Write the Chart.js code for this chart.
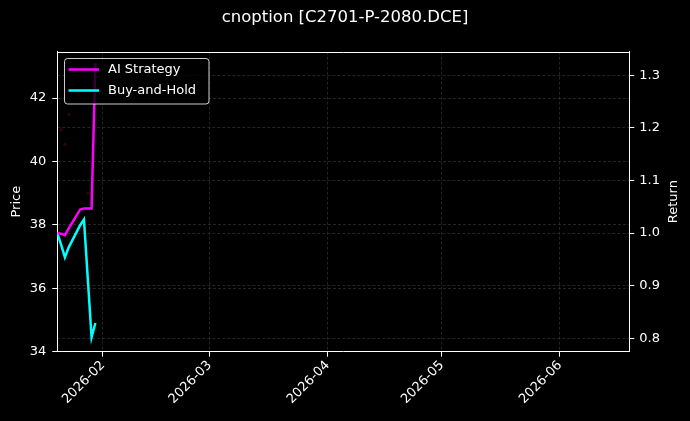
<!DOCTYPE html>
<html><head><meta charset="utf-8">
<script src="https://cdn.jsdelivr.net/npm/chart.js@4.4.1/dist/chart.umd.min.js"></script>
<style>html,body{margin:0;padding:0;background:#000;overflow:hidden;}canvas{display:block;}</style>
</head><body>
<canvas id="c" width="690" height="421" style="width:690px;height:421px"></canvas>
<script>
// ---- data ----
const titleText = 'cnoption [C2701-P-2080.DCE]';
const dates = ['2026-01-20','2026-01-21','2026-01-22','2026-01-23','2026-01-26','2026-01-27','2026-01-28','2026-01-29','2026-01-30'];
const aiStrategy = [1.000, 0.999, 0.996, 1.009, 1.045, 1.047, 1.047, 1.047, 1.323];
const buyAndHold = [1.000, 0.978, 0.954, 0.973, 1.015, 1.026, 0.914, 0.802, 0.829];
const signalDates = ['2026-01-21','2026-01-22','2026-01-23','2026-01-28'];
const signalPrices = [41.0, 40.53, 41.48, 39.0];
const monthTicks = ['2026-02-01','2026-03-01','2026-04-01','2026-05-01','2026-06-01'];
const priceTicks = [34, 36, 38, 40, 42];
const returnTicks = [0.8, 0.9, 1.0, 1.1, 1.2, 1.3];
const xRange = ['2026-01-20T00:00:00Z', '2026-06-19T05:00:00Z'];
const priceRange = [34, 43.46];
const returnRange = [0.7745, 1.345];
const seriesLabels = ['AI Strategy', 'Buy-and-Hold'];
const seriesColors = ['#ff00ff', '#00ffff'];

// ---- helpers ----
const toXY = (ds, vs) => ds.map((d, i) => ({x: Date.parse(d), y: vs[i]}));
const FONT = "'DejaVu Sans', sans-serif";
Chart.defaults.font.family = FONT;
Chart.defaults.color = '#ffffff';

const GRID = {color: '#3c3c3c', lineWidth: 0.6, tickColor: '#ffffff', tickLength: 5, tickWidth: 1};
const BORDER = {display: true, color: '#ffffff', width: 1, dash: [3, 2]};

const framePlugin = {
  id: 'frame',
  afterDraw(chart) {
    const {ctx, chartArea: a} = chart;
    ctx.save();
    ctx.strokeStyle = '#ffffff'; ctx.lineWidth = 1;
    ctx.beginPath(); ctx.moveTo(a.left, Math.round(a.top) + 0.5); ctx.lineTo(a.right, Math.round(a.top) + 0.5); ctx.stroke();
    ctx.fillStyle = '#ffffff';
    ctx.font = '13px ' + FONT;
    ctx.textAlign = 'center'; ctx.textBaseline = 'middle';
    ctx.translate(673.5, (a.top + a.bottom) / 2);
    ctx.rotate(-Math.PI / 2);
    ctx.fillText('Return', 0, 0);
    ctx.restore();
    // legend
    ctx.save();
    const lx = 64.5, ly = 58.5, lw = 144.5, lh = 45.5, r = 3;
    ctx.beginPath();
    ctx.moveTo(lx + r, ly); ctx.lineTo(lx + lw - r, ly); ctx.quadraticCurveTo(lx + lw, ly, lx + lw, ly + r);
    ctx.lineTo(lx + lw, ly + lh - r); ctx.quadraticCurveTo(lx + lw, ly + lh, lx + lw - r, ly + lh);
    ctx.lineTo(lx + r, ly + lh); ctx.quadraticCurveTo(lx, ly + lh, lx, ly + lh - r);
    ctx.lineTo(lx, ly + r); ctx.quadraticCurveTo(lx, ly, lx + r, ly);
    ctx.closePath();
    ctx.fillStyle = 'rgba(0,0,0,0.8)'; ctx.fill();
    ctx.strokeStyle = 'rgba(255,255,255,0.8)'; ctx.lineWidth = 1; ctx.stroke();
    const rows = [69.5, 90.5];
    chart.data.datasets.slice(0, 2).forEach((ds, i) => {
      ctx.strokeStyle = ds.borderColor; ctx.lineWidth = 2.5;
      ctx.beginPath(); ctx.moveTo(68.5, rows[i]); ctx.lineTo(99, rows[i]); ctx.stroke();
      ctx.fillStyle = '#ffffff'; ctx.font = '13px ' + FONT;
      ctx.textAlign = 'left'; ctx.textBaseline = 'middle';
      ctx.fillText(ds.label, 108, rows[i] + 0.5);
    });
    ctx.restore();
  }
};

new Chart(document.getElementById('c'), {
  type: 'line',
  data: {
    datasets: [
      {label: seriesLabels[0], data: toXY(dates, aiStrategy), yAxisID: 'y2', borderColor: seriesColors[0], backgroundColor: seriesColors[0], borderWidth: 2.5, pointRadius: 0, tension: 0},
      {label: seriesLabels[1], data: toXY(dates, buyAndHold), yAxisID: 'y2', borderColor: seriesColors[1], backgroundColor: seriesColors[1], borderWidth: 2.5, pointRadius: 0, tension: 0},
      {label: 'Price', data: toXY(signalDates, signalPrices), yAxisID: 'y', showLine: false, pointRadius: 1.8, borderWidth: 0, pointBackgroundColor: 'rgba(190,20,70,0.22)', backgroundColor: 'rgba(190,20,70,0.22)'}
    ]
  },
  options: {
    responsive: false,
    animation: false,
    devicePixelRatio: 1,
    layout: {padding: {left: 0, right: 0, top: 0, bottom: 0}},
    plugins: {
      legend: {display: false},
      tooltip: {enabled: false},
      title: {display: true, text: titleText, color: '#ffffff', font: {size: 16.5, weight: 'normal', family: FONT}, padding: {top: 7.5, bottom: 24.4}}
    },
    scales: {
      x: {
        type: 'linear', position: 'bottom',
        min: Date.parse(xRange[0]), max: Date.parse(xRange[1]),
        grid: GRID, border: BORDER,
        afterBuildTicks: s => { s.ticks = monthTicks.map(d => ({value: Date.parse(d + 'T00:00:00Z')})); },
        afterFit: s => { s.height = 421 - 351.7; },
        ticks: {color: '#ffffff', font: {size: 13}, minRotation: 45, maxRotation: 45, padding: 1, autoSkip: false,
          callback: v => { const d = new Date(v); return d.getUTCFullYear() + '-' + String(d.getUTCMonth() + 1).padStart(2, '0'); }}
      },
      y: {
        type: 'linear', position: 'left',
        min: priceRange[0], max: priceRange[1],
        grid: GRID, border: BORDER,
        afterBuildTicks: s => { s.ticks = priceTicks.map(v => ({value: v})); },
        afterFit: s => { s.width = 57.3; },
        title: {display: true, text: 'Price', color: '#ffffff', font: {size: 13}, padding: {top: 9, bottom: 0}},
        ticks: {color: '#ffffff', font: {size: 13}, padding: 6, callback: v => String(v)}
      },
      y2: {
        type: 'linear', position: 'right',
        min: returnRange[0], max: returnRange[1],
        grid: Object.assign({}, GRID, {drawOnChartArea: true}), border: BORDER,
        afterBuildTicks: s => { s.ticks = returnTicks.map(v => ({value: v})); },
        afterFit: s => { s.width = 690 - 629.3; },
        ticks: {color: '#ffffff', font: {size: 13}, padding: 5, callback: v => Number(v).toFixed(1)}
      }
    }
  },
  plugins: [framePlugin]
});
</script>
</body></html>
